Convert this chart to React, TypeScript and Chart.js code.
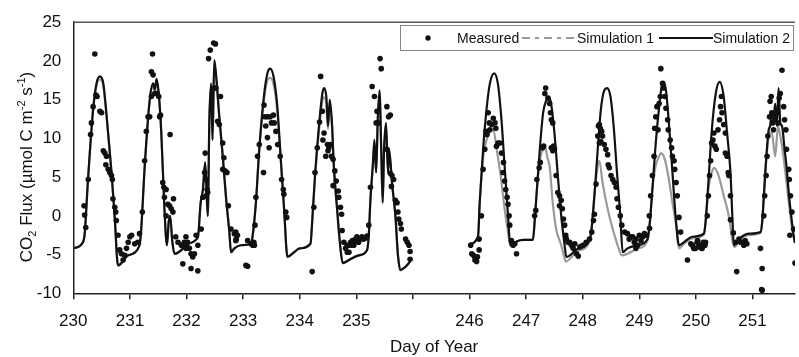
import { useEffect, useRef } from 'react';
import { Chart, registerables } from 'chart.js';

Chart.register(...registerables);

const FONT = "'Liberation Sans', Arial, Helvetica, sans-serif";

// axis positions 230..242 (days 236..245 are cut out of the axis)
const tickLabels = ['230', '231', '232', '233', '234', '235', '', '246', '247', '248', '249', '250', '251'];
const axisMin = 230;
const axisMax = 242.75;
const cutDays = 9; // days from 246 on are shifted left by 9 positions

const yTicks = { min: -10, max: 25, step: 5 };

// Measured CO2 flux: [day of year, flux]
const measured: [number, number][] = [
  [230.19, 1.3], [230.2, 0.1], [230.22, -1.5], [230.264, 4.7], [230.305, 10.5], [230.32, 12.0], [230.35, 14.1],
  [230.38, 20.9], [230.4, 15.6], [230.42, 15.4], [230.47, 13.5], [230.5, 13.3], [230.53, 8.4], [230.557, 8.1],
  [230.575, 6.6], [230.587, 7.7], [230.616, 6.0], [230.645, 5.6], [230.675, 5.2], [230.69, 4.7], [230.7, 2.2],
  [230.733, 1.1], [230.75, 0.5], [230.76, -0.6], [230.79, -2.5], [230.82, -4.4], [230.85, -4.9], [230.88, -5.7],
  [230.91, -5.1], [230.94, -4.2], [230.97, -3.4], [231.0, -2.7], [231.03, -2.5], [231.085, -3.6], [231.14, -3.4],
  [231.17, -2.3], [231.22, 0.5], [231.26, 7.1], [231.29, 10.9], [231.32, 12.8], [231.35, 12.8], [231.38, 15.4],
  [231.4, 20.9], [231.38, 18.6], [231.41, 18.2], [231.44, 15.8], [231.48, 15.8], [231.51, 15.4], [231.525, 12.8],
  [231.54, 13.0], [231.71, 10.5], [231.58, 4.3], [231.6, 3.7], [231.64, 3.4], [231.61, 2.4], [231.67, 1.5],
  [231.7, 1.3], [231.73, 0.9], [231.76, 0.5], [231.77, 2.2], [231.64, 0.0], [231.81, -2.7], [231.85, -3.4],
  [231.91, -3.8], [231.96, -3.4], [231.935, -6.2], [232.0, -3.8], [231.99, -2.7], [232.02, -3.4], [232.05, -4.2],
  [232.08, -4.9], [232.11, -5.3], [232.14, -4.9], [232.17, -2.5], [232.2, -3.8], [232.08, -6.8], [232.2, -7.1],
  [231.99, -4.2], [232.26, -1.7], [232.29, 2.4], [232.32, 5.6], [232.33, 8.1], [232.35, 4.7], [232.365, 3.4],
  [232.375, 3.0], [232.35, 2.6], [232.39, 20.3], [232.42, 21.4], [232.48, 22.3], [232.51, 22.2], [232.49, 16.5],
  [232.52, 16.5], [232.6, 15.4], [232.55, 12.2], [232.58, 11.8], [232.64, 9.4], [232.66, 7.5], [232.64, 6.0],
  [232.68, 5.8], [232.715, 5.6], [232.74, 1.3], [232.786, -1.7], [232.845, -2.3], [232.87, -3.2], [232.9, -2.5],
  [233.05, -6.4], [233.08, -6.5], [233.17, -3.8], [233.14, -3.6], [232.87, -2.1], [232.88, -3.0], [233.08, -3.2],
  [233.2, -3.8], [233.19, -3.4], [233.21, -1.2], [233.226, 2.4], [233.255, 7.7], [233.285, 9.2], [233.36, 5.6],
  [233.37, 14.3], [233.385, 12.8], [233.4, 11.6], [233.43, 10.1], [233.46, 8.8], [233.43, 12.8], [233.48, 12.8],
  [233.5, 12.0], [233.535, 13.0], [233.55, 12.0], [233.58, 10.9], [233.61, 9.2], [233.655, 7.7], [233.68, 4.7],
  [233.71, 3.4], [233.72, 2.8], [233.755, 0.5], [233.77, -0.2], [234.22, -7.2], [234.25, 1.1], [234.27, 5.6],
  [234.31, 8.8], [234.35, 12.1], [234.37, 18.0], [234.4, 13.5], [234.43, 10.7], [234.41, 9.8], [234.46, 7.7],
  [234.49, 9.2], [234.515, 8.8], [234.5, 8.4], [234.545, 9.2], [234.56, 7.7], [234.59, 7.3], [234.62, 5.8],
  [234.645, 4.5], [234.59, 3.9], [234.68, 3.2], [234.69, 2.4], [234.72, 1.1], [234.74, 0.2], [234.75, -1.9],
  [234.78, -3.4], [234.81, -4.2], [234.84, -4.7], [234.87, -3.8], [234.9, -3.4], [234.93, -3.2], [234.955, -3.8],
  [234.985, -3.0], [235.01, -2.7], [235.04, -3.4], [235.07, -3.0], [235.1, -2.7], [235.13, -3.0], [234.84, -3.8],
  [234.87, -4.7], [234.93, -3.8], [234.97, -3.4], [235.16, -2.9], [235.19, -2.6], [235.22, -1.2], [235.25, 3.7],
  [235.28, 16.7], [235.32, 15.4], [235.365, 13.5], [235.35, 12.0], [235.395, 12.0], [235.42, 20.3], [235.44, 19.0],
  [235.54, 14.1], [235.57, 12.8], [235.6, 13.0], [235.54, 8.6], [235.6, 5.5], [235.62, 3.8], [235.63, 5.2],
  [235.66, 4.7], [235.69, 2.0], [235.72, 1.7], [235.735, 0.5], [235.75, -0.4], [235.78, -1.0], [235.795, -1.7],
  [235.87, -3.0], [235.9, -3.4], [235.93, -3.8], [235.95, -4.6], [235.95, -5.6],
  [245.98, -7.9], [245.98, -4.2], [246.02, -3.8], [246.04, -4.9], [246.07, -5.1], [246.095, -5.7], [246.125, -5.9],
  [246.14, -5.3], [246.17, -4.4], [246.17, -3.0], [246.11, -5.5], [246.21, 0.0], [246.24, 6.0], [246.27, 8.6],
  [246.29, 10.9], [246.31, 10.5], [246.33, 13.3], [246.35, 12.0], [246.36, 11.1], [246.39, 11.8], [246.42, 12.6],
  [246.45, 12.0], [246.465, 11.3], [246.505, 9.4], [246.476, 9.0], [246.535, 9.4], [246.565, 8.1], [246.59, 5.6],
  [246.62, 4.5], [246.6, 6.9], [246.64, 3.4], [246.664, 2.4], [246.68, 1.5], [246.7, 0.0], [246.71, -1.2],
  [246.74, -3.2], [246.77, -3.8], [246.8, -3.6], [246.83, -4.9], [247.15, 0.0], [247.17, 0.7], [247.19, 4.7],
  [247.23, 6.2], [247.25, 6.9], [247.29, 8.8], [247.31, 9.0], [247.345, 16.5], [247.33, 15.8], [247.385, 15.2],
  [247.415, 14.5], [247.43, 13.3], [247.445, 12.4], [247.47, 12.0], [247.445, 8.8], [247.47, 8.4], [247.5, 8.6],
  [247.485, 9.0], [247.53, 5.2], [247.56, 3.0], [247.59, 2.6], [247.62, 2.0], [247.59, 1.3], [247.64, 0.9],
  [247.66, -0.4], [247.68, -1.2], [247.7, -2.5], [247.71, -2.95], [247.74, -3.4], [247.77, -3.4], [247.8, -3.8],
  [247.83, -4.2], [247.86, -3.6], [247.89, -4.9], [247.92, -5.2], [247.95, -4.0], [248.0, -3.8], [248.06, -3.4],
  [248.12, -3.0], [248.16, -2.1], [248.19, -0.6], [248.206, 0.2], [248.235, 4.1], [248.265, 10.3], [248.277, 11.6],
  [248.294, 11.8], [248.31, 11.3], [248.335, 10.9], [248.35, 10.3], [248.294, 9.4], [248.32, 9.6], [248.38, 9.2],
  [248.41, 8.6], [248.44, 7.9], [248.45, 6.6], [248.47, 6.2], [248.5, 5.2], [248.53, 4.7], [248.56, 4.3],
  [248.59, 3.7], [248.605, 2.2], [248.63, 1.1], [248.664, 0.0], [248.69, -1.2], [248.74, -2.1], [248.79, -2.3],
  [248.82, -3.0], [248.86, -2.7], [248.88, -2.7], [248.91, -3.4], [248.94, -3.0], [248.97, -3.8], [249.0, -2.5],
  [249.03, -3.2], [249.06, -2.7], [249.09, -2.3], [249.12, -2.5], [249.18, -1.6], [248.94, -4.2], [249.175, 0.0],
  [249.2, 2.6], [249.23, 5.2], [249.26, 7.7], [249.27, 11.3], [249.29, 12.8], [249.31, 14.1], [249.33, 11.1],
  [249.35, 14.5], [249.37, 15.4], [249.38, 19.0], [249.41, 17.1], [249.426, 16.5], [249.45, 15.4], [249.47, 13.9],
  [249.5, 12.4], [249.51, 11.1], [249.545, 9.8], [249.57, 8.8], [249.585, 7.7], [249.614, 7.1], [249.626, 6.0],
  [249.65, 4.3], [249.67, 2.6], [249.7, -0.2], [249.73, -2.1], [249.85, -5.7], [249.91, -3.6], [249.96, -4.2],
  [250.05, -4.0], [250.1, -4.2], [250.13, -3.4], [250.16, -3.8], [250.03, -3.2], [249.936, -3.8], [249.995, -4.2],
  [250.02, -3.4], [250.08, -3.8], [250.11, -4.2], [250.17, -3.4], [249.97, -4.2], [250.2, 0.0], [250.22, 2.6],
  [250.24, 5.2], [250.26, 7.1], [250.276, 9.4], [250.3, 9.8], [250.317, 10.7], [250.335, 9.0], [250.36, 8.6],
  [250.39, 11.1], [250.417, 12.4], [250.435, 14.1], [250.45, 15.4], [250.46, 13.3], [250.49, 11.8], [250.52, 10.7],
  [250.52, 8.1], [250.55, 7.7], [250.57, 5.6], [250.58, 5.2], [250.61, 2.6], [250.61, -0.5], [250.66, -2.2],
  [250.7, -3.4], [250.72, -7.2], [250.76, -3.0], [250.79, -3.4], [250.82, -3.4], [250.845, -3.8], [250.87, -3.2],
  [250.9, -3.6], [251.14, -4.2], [251.17, -6.8], [251.17, -9.6], [251.16, -9.5], [251.2, 0.0], [251.215, 2.6],
  [251.24, 5.2], [251.256, 7.7], [251.27, 10.3], [251.3, 12.8], [251.31, 14.8], [251.33, 15.4], [251.34, 13.3],
  [251.355, 12.0], [251.37, 11.1], [251.4, 12.4], [251.43, 13.3], [251.45, 12.0], [251.47, 15.2], [251.49, 15.8],
  [251.52, 18.8], [251.55, 14.1], [251.566, 12.4], [251.59, 11.1], [251.6, 8.6], [251.64, 6.0], [251.65, 4.7],
  [251.67, 2.6], [251.696, 0.5], [251.725, -1.7], [251.66, -2.5], [251.75, -6.1],
];

// Simulation 2 (black): [day of year, flux]
const sim2Early: [number, number][] = [
  [230.0, -4.2], [230.17, -3.4], [230.2, -2.4], [230.26, 4.7], [230.35, 13.7], [230.41, 17.1], [230.47, 18.0],
  [230.53, 17.1], [230.59, 12.8], [230.675, 5.6], [230.73, 0.0], [230.79, -6.4], [230.97, -5.1], [231.17, -3.8],
  [231.2, -1.7], [231.26, 6.2], [231.35, 15.0], [231.41, 17.1], [231.44, 16.3], [231.47, 17.7], [231.51, 15.8],
  [231.555, 10.7], [231.61, 0.9], [231.655, -3.8], [231.685, -0.8], [231.71, 0.0], [231.75, -3.4], [231.79, -4.9],
  [231.94, -4.2], [232.0, -3.6], [232.2, -2.8], [232.25, 1.7], [232.29, 3.4], [232.33, 6.9], [232.375, 0.0],
  [232.405, 12.8], [232.435, 17.1], [232.46, 9.8], [232.49, 20.1], [232.52, 18.4], [232.58, 12.8], [232.64, 7.7],
  [232.7, 2.2], [232.757, -2.1], [232.786, -4.7], [232.845, -4.2], [232.96, -3.8], [233.14, -3.6], [233.17, -2.5],
  [233.226, 1.7], [233.285, 8.6], [233.373, 15.8], [233.43, 18.4], [233.478, 19.0], [233.537, 18.0], [233.6, 14.5],
  [233.666, 7.3], [233.724, 0.9], [233.783, -5.3], [233.9, -4.7], [234.0, -4.2], [234.19, -3.6], [234.22, -0.8],
  [234.27, 5.2], [234.34, 11.6], [234.4, 15.8], [234.43, 16.5], [234.47, 15.4], [234.5, 11.6], [234.53, 15.0],
  [234.57, 12.0], [234.6, 6.9], [234.66, 0.9], [234.72, -4.2], [234.76, -6.1], [234.87, -5.7], [235.04, -5.1],
  [235.19, -4.4], [235.22, -2.5], [235.25, 2.2], [235.29, 6.4], [235.32, 9.8], [235.35, 5.6], [235.38, 12.8],
  [235.41, 16.2], [235.44, 8.6], [235.466, 1.7], [235.49, 8.6], [235.525, 12.0], [235.56, 5.6], [235.58, 8.6],
  [235.63, 4.3], [235.69, 0.0], [235.736, -5.1], [235.777, -7.0], [235.865, -6.6], [235.95, -5.9],
];
const sim2Late: [number, number][] = [
  [246.0, -3.6], [246.15, -2.7], [246.18, 1.7], [246.24, 8.6], [246.3, 13.7], [246.36, 17.1], [246.435, 18.4],
  [246.5, 17.1], [246.56, 12.8], [246.62, 6.4], [246.68, 0.0], [246.72, -3.8], [246.83, -3.3], [246.95, -3.1],
  [247.12, -3.1], [247.15, -0.8], [247.19, 3.4], [247.25, 9.4], [247.3, 13.3], [247.356, 14.9], [247.4, 15.4],
  [247.44, 14.5], [247.5, 10.7], [247.56, 5.2], [247.62, 0.0], [247.68, -3.8], [247.71, -5.3], [247.9, -4.3],
  [248.1, -3.4], [248.15, -2.1], [248.206, 2.6], [248.265, 8.6], [248.32, 13.7], [248.38, 16.2], [248.43, 16.5],
  [248.49, 15.4], [248.546, 11.6], [248.605, 5.6], [248.664, 0.0], [248.705, -4.7], [248.79, -4.2], [248.97, -3.8],
  [249.145, -3.0], [249.186, -0.8], [249.23, 3.4], [249.29, 9.4], [249.35, 14.1], [249.39, 16.5], [249.426, 17.3],
  [249.47, 16.2], [249.526, 11.6], [249.585, 5.6], [249.64, 0.0], [249.7, -3.8], [249.79, -3.4], [249.936, -2.7],
  [250.14, -2.3], [250.17, -0.8], [250.22, 4.3], [250.276, 10.7], [250.35, 15.8], [250.42, 17.3], [250.49, 15.4],
  [250.55, 10.7], [250.61, 5.6], [250.64, 0.5], [250.67, -3.8], [250.76, -3.0], [250.93, -2.3], [251.14, -2.1],
  [251.17, -0.8], [251.2, 2.6], [251.24, 7.3], [251.285, 11.1], [251.31, 11.6], [251.34, 13.3], [251.37, 12.4],
  [251.4, 14.5], [251.43, 11.6], [251.46, 16.5], [251.49, 12.0], [251.52, 11.6], [251.566, 8.6], [251.6, 6.4],
  [251.65, 2.2], [251.696, -0.8], [251.725, -2.5], [251.75, -3.5],
];

// Simulation 1 (grey): [day of year, flux]
const sim1Early: [number, number][] = [
  [230.0, -4.2], [230.17, -3.4], [230.2, -2.4], [230.26, 4.7], [230.35, 13.7], [230.41, 16.8], [230.47, 17.6],
  [230.53, 16.8], [230.59, 12.6], [230.675, 5.6], [230.73, 0.0], [230.79, -6.4], [230.97, -5.1], [231.17, -3.8],
  [231.2, -1.7], [231.26, 6.2], [231.35, 14.8], [231.41, 16.8], [231.44, 16.0], [231.47, 17.3], [231.51, 15.5],
  [231.555, 10.5], [231.61, 0.9], [231.655, -3.8], [231.685, -0.8], [231.71, 0.0], [231.75, -3.4], [231.79, -4.9],
  [231.94, -4.2], [232.0, -3.6], [232.2, -2.8], [232.25, 1.7], [232.29, 3.4], [232.33, 6.9], [232.375, 0.0],
  [232.405, 12.5], [232.435, 16.8], [232.46, 9.8], [232.49, 19.6], [232.52, 18.0], [232.58, 12.6], [232.64, 7.7],
  [232.7, 2.2], [232.757, -2.1], [232.786, -4.7], [232.845, -4.2], [232.96, -3.8], [233.14, -3.6], [233.17, -2.5],
  [233.226, 1.7], [233.285, 8.4], [233.373, 15.2], [233.43, 17.5], [233.478, 17.8], [233.537, 17.0], [233.6, 13.8],
  [233.666, 7.0], [233.724, 0.9], [233.783, -5.3], [233.9, -4.7], [234.0, -4.2], [234.19, -3.6], [234.22, -0.8],
  [234.27, 5.0], [234.34, 11.0], [234.4, 14.8], [234.43, 15.3], [234.47, 14.6], [234.5, 11.2], [234.53, 14.2],
  [234.57, 11.5], [234.6, 6.6], [234.66, 0.9], [234.72, -4.2], [234.76, -6.1], [234.87, -5.7], [235.04, -5.1],
  [235.19, -4.4], [235.22, -2.5], [235.25, 2.2], [235.29, 6.2], [235.32, 9.4], [235.35, 5.6], [235.38, 12.2],
  [235.41, 15.3], [235.44, 8.6], [235.466, 1.7], [235.49, 8.4], [235.525, 11.5], [235.56, 5.6], [235.58, 8.2],
  [235.63, 4.3], [235.69, 0.0], [235.736, -5.1], [235.777, -7.0], [235.865, -6.6], [235.95, -5.9],
];
const sim1Late: [number, number][] = [
  [246.0, -3.6], [246.15, -2.7], [246.18, 1.7], [246.24, 7.5], [246.3, 9.8], [246.36, 10.9], [246.42, 11.1],
  [246.48, 8.6], [246.55, 5.2], [246.62, 0.9], [246.68, -2.1], [246.72, -3.8], [246.83, -3.3], [246.95, -3.1],
  [247.12, -3.1], [247.15, -0.8], [247.19, 3.4], [247.25, 7.5], [247.3, 8.6], [247.335, 8.8], [247.38, 7.4],
  [247.415, 6.4], [247.47, 1.7], [247.53, -1.7], [247.62, -3.8], [247.68, -5.5], [247.7, -5.9], [247.9, -4.6],
  [248.1, -3.6], [248.15, -2.1], [248.206, 2.6], [248.265, 6.5], [248.294, 7.1], [248.35, 4.3], [248.44, 0.9],
  [248.53, -1.7], [248.617, -3.8], [248.69, -5.1], [248.79, -4.9], [248.97, -4.2], [249.145, -3.2], [249.186, -0.8],
  [249.23, 3.4], [249.29, 6.5], [249.35, 7.7], [249.38, 8.1], [249.45, 7.3], [249.51, 5.2], [249.585, 1.7],
  [249.66, -1.7], [249.7, -4.2], [249.79, -3.6], [249.936, -2.9], [250.14, -2.4], [250.17, -0.8], [250.22, 3.5],
  [250.276, 5.5], [250.32, 6.2], [250.4, 5.2], [250.49, 2.6], [250.58, 0.0], [250.65, -3.4], [250.69, -4.0],
  [250.76, -3.2], [250.93, -2.5], [251.14, -2.2], [251.17, -0.8], [251.2, 2.6], [251.24, 7.0], [251.3, 10.7],
  [251.34, 10.7], [251.4, 7.7], [251.45, 11.6], [251.49, 10.3], [251.53, 8.6], [251.6, 4.3], [251.7, -1.7],
  [251.75, -3.5],
];

const toAxis = (day: number) => (day >= 246 ? day - cutDays : day);
const toPoints = (list: [number, number][]) => list.map(([d, v]) => ({ x: toAxis(d), y: v }));
const withGap = (a: [number, number][], b: [number, number][]) => [
  ...toPoints(a),
  { x: 236.5, y: null as any },
  ...toPoints(b),
];

function drawRichVertical(ctx: CanvasRenderingContext2D, cx: number, cy: number, size: number) {
  const parts: { t: string; k: 'n' | 'sub' | 'sup' }[] = [
    { t: 'CO', k: 'n' }, { t: '2', k: 'sub' }, { t: ' Flux (\u00b5mol C m', k: 'n' },
    { t: '-2', k: 'sup' }, { t: ' s', k: 'n' }, { t: '-1', k: 'sup' }, { t: ')', k: 'n' },
  ];
  const small = Math.round(size * 0.62);
  const widths = parts.map((p) => {
    ctx.font = `${p.k === 'n' ? size : small}px ${FONT}`;
    return ctx.measureText(p.t).width;
  });
  const total = widths.reduce((a, b) => a + b, 0);
  ctx.save();
  ctx.translate(cx, cy);
  ctx.rotate(-Math.PI / 2);
  ctx.fillStyle = '#111';
  ctx.textBaseline = 'alphabetic';
  ctx.textAlign = 'left';
  let x = -total / 2;
  const base = size * 0.36;
  parts.forEach((p, i) => {
    ctx.font = `${p.k === 'n' ? size : small}px ${FONT}`;
    let y = base;
    if (p.k === 'sub') y = base + size * 0.22;
    if (p.k === 'sup') y = base - size * 0.42;
    ctx.fillText(p.t, x, y);
    x += widths[i];
  });
  ctx.restore();
}

const decorPlugin = {
  id: 'decor',
  afterDraw(chart: any) {
    const { ctx, chartArea } = chart;
    ctx.save();
    // top frame line
    ctx.strokeStyle = '#555';
    ctx.lineWidth = 1.5;
    ctx.beginPath();
    ctx.moveTo(chartArea.left, chartArea.top);
    ctx.lineTo(chartArea.right, chartArea.top);
    ctx.stroke();

    // legend box
    const bx = 400.5, by = 25.5, bw = 393, bh = 25;
    ctx.fillStyle = '#fff';
    ctx.fillRect(bx, by, bw, bh);
    ctx.strokeStyle = '#888';
    ctx.lineWidth = 1;
    ctx.strokeRect(bx, by, bw, bh);
    const cy = by + bh / 2;
    ctx.font = `14px ${FONT}`;
    ctx.fillStyle = '#111';
    ctx.textBaseline = 'middle';
    ctx.textAlign = 'left';
    ctx.beginPath();
    ctx.arc(428, cy, 2.7, 0, Math.PI * 2);
    ctx.fill();
    ctx.fillText('Measured', 457, cy + 1);
    ctx.strokeStyle = '#999';
    ctx.lineWidth = 1.8;
    ctx.setLineDash([8, 5, 4, 5]);
    ctx.beginPath();
    ctx.moveTo(522, cy);
    ctx.lineTo(577, cy);
    ctx.stroke();
    ctx.setLineDash([]);
    ctx.fillText('Simulation 1', 577, cy + 1);
    ctx.strokeStyle = '#111';
    ctx.lineWidth = 1.8;
    ctx.beginPath();
    ctx.moveTo(659, cy);
    ctx.lineTo(713, cy);
    ctx.stroke();
    ctx.fillText('Simulation 2', 713, cy + 1);
    ctx.restore();

    drawRichVertical(ctx, 26, 167, 17);
  },
};

export default function App() {
  const ref = useRef<HTMLCanvasElement>(null);
  useEffect(() => {
    document.body.style.margin = '0';
    const canvas = ref.current;
    if (!canvas) return;
    const chart = new Chart(canvas, {
      type: 'scatter',
      data: {
        datasets: [
          {
            label: 'Measured',
            data: toPoints(measured),
            showLine: false,
            pointRadius: 2.8,
            pointBackgroundColor: '#111',
            pointBorderWidth: 0,
            order: 0,
          },
          {
            label: 'Simulation 2',
            data: withGap(sim2Early, sim2Late),
            showLine: true,
            spanGaps: false,
            borderColor: '#111',
            borderWidth: 2.2,
            pointRadius: 0,
            cubicInterpolationMode: 'monotone',
            order: 1,
          },
          {
            label: 'Simulation 1',
            data: withGap(sim1Early, sim1Late),
            showLine: true,
            spanGaps: false,
            borderColor: '#9a9a9a',
            borderWidth: 2.2,
            pointRadius: 0,
            cubicInterpolationMode: 'monotone',
            order: 2,
          },
        ],
      },
      options: {
        animation: false,
        responsive: true,
        maintainAspectRatio: false,
        layout: { padding: { left: 0, right: 1, top: 20, bottom: 0 } },
        plugins: { legend: { display: false }, tooltip: { enabled: false } },
        scales: {
          x: {
            type: 'linear',
            min: axisMin,
            max: axisMax,
            afterBuildTicks: (s: any) => {
              s.ticks = tickLabels.map((_, i) => ({ value: axisMin + i }));
            },
            afterFit: (s: any) => {
              s.height = 63.7;
            },
            ticks: {
              callback: (v: any) => tickLabels[Math.round(Number(v) - axisMin)] ?? '',
              autoSkip: false,
              maxRotation: 0,
              color: '#111',
              padding: 12,
              font: { family: FONT, size: 17 },
            },
            grid: { drawOnChartArea: false, drawTicks: true, tickLength: 6, color: '#222', lineWidth: 1.5 },
            border: { display: true, color: '#222', width: 1.5 },
            title: {
              display: true,
              text: 'Day of Year',
              color: '#111',
              font: { family: FONT, size: 17, lineHeight: 1 },
              padding: { top: 0, bottom: 1 },
            },
          },
          y: {
            min: yTicks.min,
            max: yTicks.max,
            afterFit: (s: any) => {
              s.width = 73.3;
            },
            ticks: { stepSize: yTicks.step, color: '#111', padding: 12, font: { family: FONT, size: 17 } },
            grid: { drawOnChartArea: false, drawTicks: false },
            border: { display: true, color: '#222', width: 1.5 },
          },
        },
      },
      plugins: [decorPlugin],
    });
    return () => chart.destroy();
  }, []);
  return (
    <div style={{ width: 799, height: 357, position: 'relative' }}>
      <canvas ref={ref} />
    </div>
  );
}
